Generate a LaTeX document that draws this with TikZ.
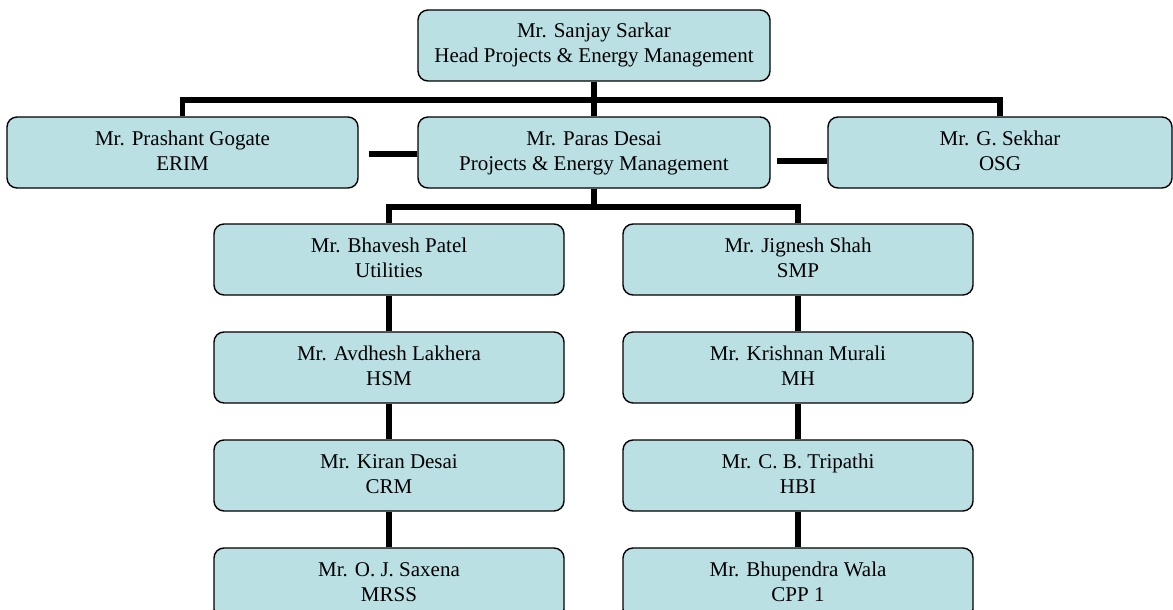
\documentclass[tikz,border=0pt]{standalone}
\usepackage{fontspec}
\setmainfont{Liberation Serif}
\definecolor{boxfill}{RGB}{186,224,227}
\tikzset{
  orgbox/.style={draw=black, line width=1.4pt, fill=boxfill, rounded corners=10pt,
    minimum height=71pt, inner sep=0pt, align=center,
    font=\fontsize{21}{25}\selectfont},
  conn/.style={draw=black, line width=5.5pt, line join=miter}
}
\newcommand{\tl}[2]{\strut #1\\\strut #2}
\begin{document}
\begin{tikzpicture}[x=1pt,y=-1pt]
\useasboundingbox (0,0) rectangle (1173,610);
\clip (0,0) rectangle (1173,610);
% boxes
\node[orgbox, minimum width=352pt] (top) at (594,45.5) {\tl{Mr. Sanjay Sarkar}{Head Projects \& Energy Management}};
\node[orgbox, minimum width=351pt] (gog) at (182.5,152.5) {\tl{Mr. Prashant Gogate}{ERIM}};
\node[orgbox, minimum width=352pt] (mid) at (594,152.5) {\tl{Mr. Paras Desai}{Projects \& Energy Management}};
\node[orgbox, minimum width=344pt] (sek) at (1000,152.5) {\tl{Mr. G. Sekhar}{OSG}};
\node[orgbox, minimum width=350pt] (bha) at (389,259.5) {\tl{Mr. Bhavesh Patel}{Utilities}};
\node[orgbox, minimum width=350pt] (jig) at (798,259.5) {\tl{Mr. Jignesh Shah}{SMP}};
\node[orgbox, minimum width=350pt] (avd) at (389,367.5) {\tl{Mr. Avdhesh Lakhera}{HSM}};
\node[orgbox, minimum width=350pt] (kri) at (798,367.5) {\tl{Mr. Krishnan Murali}{MH}};
\node[orgbox, minimum width=350pt] (kir) at (389,475.5) {\tl{Mr. Kiran Desai}{CRM}};
\node[orgbox, minimum width=350pt] (tri) at (798,475.5) {\tl{Mr. C. B. Tripathi}{HBI}};
\node[orgbox, minimum width=350pt] (sax) at (389,583.5) {\tl{Mr. O. J. Saxena}{MRSS}};
\node[orgbox, minimum width=350pt] (bhu) at (798,583.5) {\tl{Mr. Bhupendra Wala}{CPP 1}};
% connectors
\coordinate (bus1) at (594,100);
\coordinate (bus2) at (594,207);
\coordinate (lc) at (369,154);
\coordinate (rc) at (777,161);
\draw[conn] (top.south) -- (mid.north);
\draw[conn] (gog.north) |- (bus1) -| (sek.north);
\draw[conn] (mid.south) -- (bus2);
\draw[conn] (bha.north) |- (bus2) -| (jig.north);
\draw[conn] (lc) -- (lc -| mid.west);
\draw[conn] (rc) -- (rc -| sek.west);
\draw[conn] (bha.south) -- (avd.north);
\draw[conn] (avd.south) -- (kir.north);
\draw[conn] (kir.south) -- (sax.north);
\draw[conn] (jig.south) -- (kri.north);
\draw[conn] (kri.south) -- (tri.north);
\draw[conn] (tri.south) -- (bhu.north);
\end{tikzpicture}
\end{document}
